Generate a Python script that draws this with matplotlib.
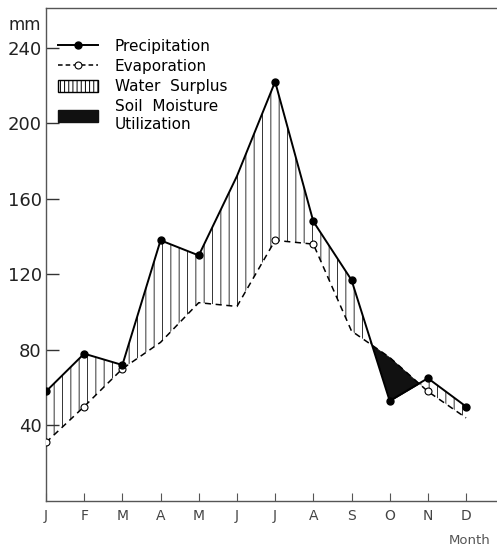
import matplotlib
matplotlib.use("Agg")
import matplotlib.pyplot as plt
import numpy as np
from matplotlib.lines import Line2D
from matplotlib.patches import Patch

months = ["J", "F", "M", "A", "M", "J", "J", "A", "S", "O", "N", "D"]
precipitation = [58, 78, 72, 138, 130, 172, 222, 148, 117, 53, 65, 50]
evaporation = [31, 50, 70, 84, 105, 103, 138, 136, 90, 76, 58, 44]
y_ticks = [40, 80, 120, 160, 200, 240]

plt.rcParams['font.family'] = ['DejaVu Sans']
plt.rcParams['hatch.linewidth'] = 0.7
plt.rcParams['hatch.color'] = '#333333'

fig = plt.figure(figsize=(4.97, 5.49), dpi=100)
ax = fig.add_axes([46/497, 48/549, 1 - 46/497, (501 - 8)/549])

x = np.arange(len(months))
P = np.array(precipitation, dtype=float)
E = np.array(evaporation, dtype=float)

ax.fill_between(x, P, E, where=P >= E, interpolate=True, facecolor='white',
                edgecolor='#333333', hatch='||', linewidth=0, zorder=1)
ax.fill_between(x, P, E, where=P < E, interpolate=True, facecolor='#111111',
                edgecolor='#111111', linewidth=0.5, zorder=1)

ax.plot(x, E, linestyle=(0, (4, 3)), color='black', lw=1.1, marker='o',
        markersize=5, markerfacecolor='white', markeredgecolor='black',
        markeredgewidth=0.8, markevery=[0, 1, 2, 6, 7, 10], zorder=3)
ax.plot(x, P, linestyle='-', color='black', lw=1.4, marker='o',
        markersize=5, markerfacecolor='black', markeredgecolor='black',
        markevery=[0, 1, 2, 3, 4, 6, 7, 8, 9, 10, 11], zorder=4)

ax.set_xlim(0, 11.81)
ax.set_ylim(0, 261)
ax.set_xticks(x)
ax.set_xticklabels(months, fontsize=10, color='#444444')
ax.set_yticks(y_ticks)
ax.set_yticklabels([str(v) for v in y_ticks], fontsize=13, color='#222222')
ax.tick_params(axis='y', direction='in', length=9, width=1, color='#333333', pad=3)
ax.tick_params(axis='x', direction='in', length=6, width=0.8, color='#555555', pad=6)

for s in ['left', 'bottom', 'top']:
    ax.spines[s].set_color('#555555')
    ax.spines[s].set_linewidth(1.0)
ax.spines['right'].set_visible(False)

fig.text(25/497, 1 - 25/549, "mm", fontsize=12, ha='center', va='center', color='#222222')
fig.text(470/497, 1 - 540/549, "Month", fontsize=9.5, ha='center', va='center', color='#555555')

handles = [
    Line2D([0], [0], color='black', lw=1.4, marker='o', markersize=5,
           markerfacecolor='black'),
    Line2D([0], [0], color='black', lw=1.1, linestyle=(0, (3, 2)), marker='o', markersize=5,
           markerfacecolor='white', markeredgewidth=0.8),
    Patch(facecolor='white', edgecolor='black', hatch='||||', linewidth=1.0),
    Patch(facecolor='#111111', edgecolor='#111111'),
]
labels = ["Precipitation", "Evaporation", "Water  Surplus", "Soil  Moisture\nUtilization"]
leg = ax.legend(handles, labels, loc='upper left', bbox_to_anchor=(12/451, 1 - 31/493),
                frameon=False, fontsize=11, handlelength=2.6, handleheight=0.8,
                handletextpad=1.1, labelspacing=0.33, borderaxespad=0, borderpad=0)

fig.savefig("out.png", dpi=100, facecolor='white')
